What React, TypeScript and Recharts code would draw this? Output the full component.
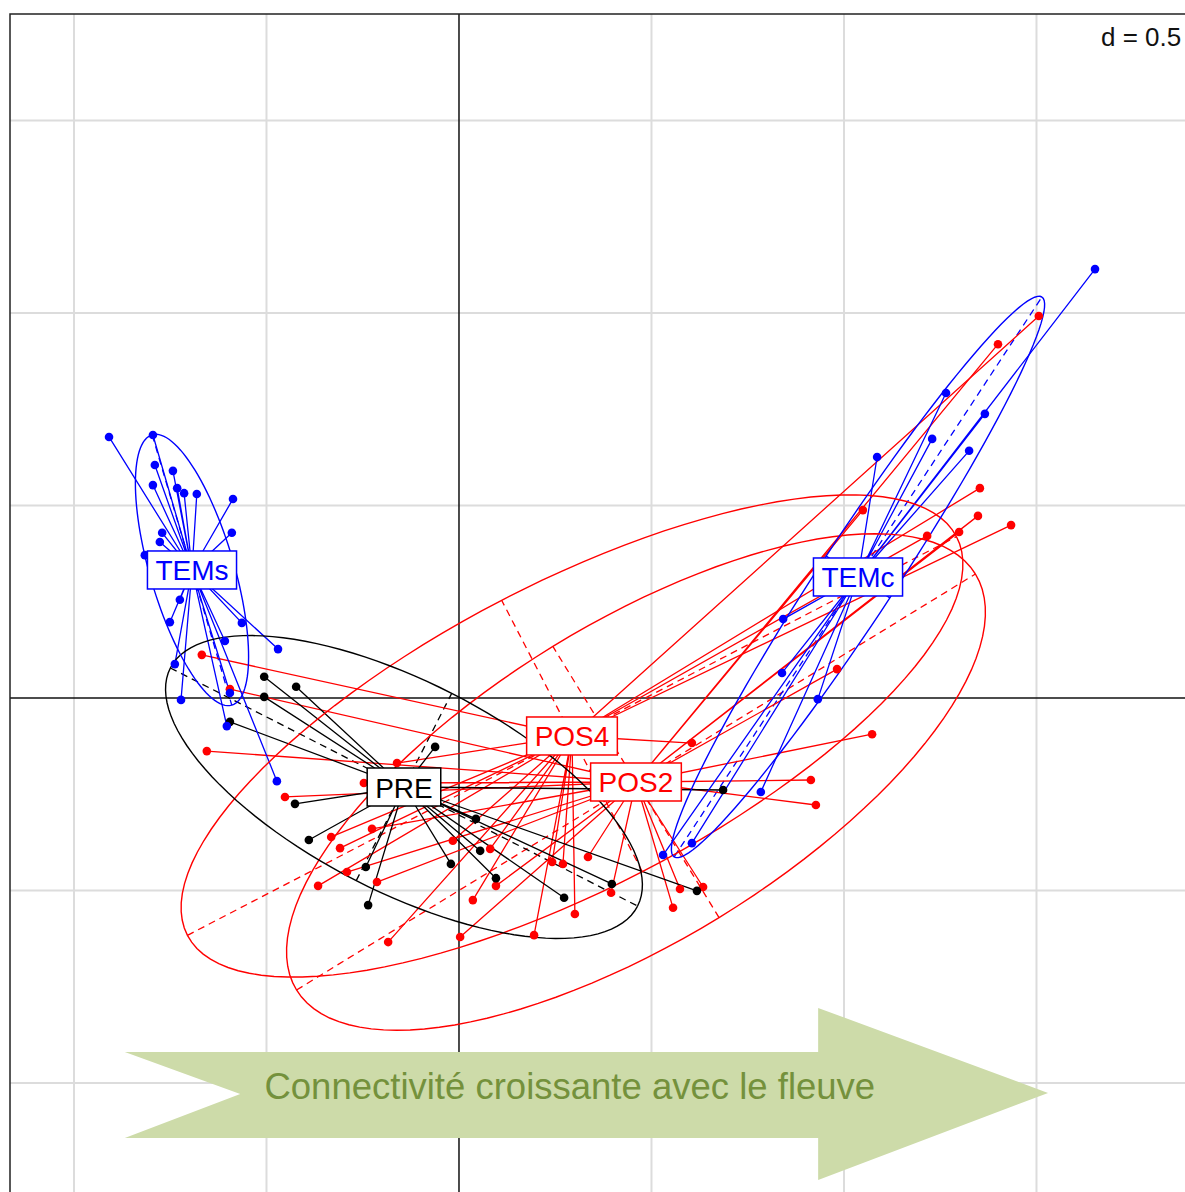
import React from 'react';
import { ComposedChart, Scatter, XAxis, YAxis, ReferenceLine, ReferenceArea } from 'recharts';

type P = [number, number];

// ---- data (in ordination units; d = 0.5 grid) ----
const groupNames = ['POS2', 'POS4', 'PRE', 'TEMs', 'TEMc'];
const groupColors = ['#ff0000', '#ff0000', '#000000', '#0000ff', '#0000ff'];
const centroids: P[] = [
  [0.4597, -0.2182],
  [0.2935, -0.0987],
  [-0.1429, -0.2312],
  [-0.6935, 0.3325],
  [1.0364, 0.3143],
];

const pos2Points: P[] = [
  [-0.595, 0.023], [-0.655, -0.138], [-0.247, -0.221], [-0.452, -0.257], [-0.226, -0.34],
  [-0.291, -0.452], [-0.213, -0.478], [0.003, -0.621], [0.335, -0.413], [0.096, -0.488],
  [0.395, -0.506], [0.574, -0.496], [0.556, -0.545], [0.634, -0.491], [0.982, 0.075],
  [1.073, -0.094], [0.914, -0.213], [0.927, -0.278], [1.4, 0.919], [1.348, 0.473],
  [1.299, 0.431], [1.049, 0.488],
];
const pos4Points: P[] = [
  [-0.668, 0.112], [-0.161, -0.169], [-0.332, -0.361], [-0.309, -0.39], [-0.366, -0.488],
  [-0.184, -0.634], [-0.016, -0.371], [0.036, -0.525], [0.081, -0.392], [0.242, -0.426],
  [0.27, -0.431], [0.301, -0.561], [0.195, -0.616], [0.605, -0.117], [1.506, 0.992],
  [1.353, 0.545], [1.434, 0.449], [1.216, 0.421],
];
const prePoints: P[] = [
  [-0.506, 0.055], [-0.423, 0.029], [-0.506, 0.003], [-0.595, -0.062], [-0.062, -0.127],
  [-0.426, -0.275], [-0.39, -0.369], [-0.242, -0.439], [-0.021, -0.431], [-0.236, -0.538],
  [0.044, -0.314], [0.055, -0.397], [0.096, -0.468], [0.273, -0.519], [0.397, -0.483],
  [0.618, -0.501], [0.686, -0.239],
];
const temsPoints: P[] = [
  [-0.909, 0.678], [-0.795, 0.683], [-0.79, 0.605], [-0.743, 0.59], [-0.795, 0.553],
  [-0.732, 0.545], [-0.714, 0.532], [-0.681, 0.53], [-0.587, 0.517], [-0.59, 0.429],
  [-0.771, 0.429], [-0.777, 0.405], [-0.816, 0.371], [-0.725, 0.255], [-0.751, 0.197],
  [-0.564, 0.195], [-0.608, 0.148], [-0.47, 0.127], [-0.738, 0.088], [-0.722, -0.005],
  [-0.595, 0.013], [-0.603, -0.073], [-0.473, -0.216],
];
const temcPoints: P[] = [
  [1.652, 1.114], [1.265, 0.792], [1.366, 0.738], [1.229, 0.673], [1.325, 0.642],
  [1.086, 0.626], [0.842, 0.205], [0.839, 0.065], [0.932, -0.003], [0.784, -0.244],
  [0.605, -0.377], [0.53, -0.408],
];
const groupPoints: P[][] = [pos2Points, pos4Points, prePoints, temsPoints, temcPoints];

// ellipse: semi-major, semi-minor, angle (deg) of major axis
const ellipseSemiMajor = [1.034, 1.125, 0.681, 0.366, 0.87];
const ellipseSemiMinor = [0.413, 0.397, 0.273, 0.109, 0.099];
const ellipseAngle = [31.5, 27.4, -27, -73.6, 56.7];

const gridX = [-1, -0.5, 0.5, 1, 1.5];
const gridY = [-1, -0.5, 0.5, 1, 1.5];
const scaleLabel = 'd = 0.5';
const arrowText = 'Connectivité croissante avec le fleuve';
// arrow extent in ordination units
const arrowX: P = [-0.868, 1.53];
const arrowY: P = [-1.252, -0.805];

const DOMAIN_X: P = [-1.1662, 1.9247];
const DOMAIN_Y: P = [-1.3299, 1.7766];

const FONT = '"Liberation Sans", Arial, Helvetica, sans-serif';

function measure(text: string, size: number): number {
  try {
    const c = document.createElement('canvas').getContext('2d');
    if (c) {
      c.font = `${size}px ${FONT}`;
      return c.measureText(text).width;
    }
  } catch (e) {}
  return text.length * size * 0.6;
}

function ellipsePoints(i: number) {
  const [cx, cy] = centroids[i];
  const a = ellipseSemiMajor[i];
  const b = ellipseSemiMinor[i];
  const th = (ellipseAngle[i] * Math.PI) / 180;
  const pts: { x: number; y: number }[] = [];
  for (let k = 0; k <= 120; k++) {
    const t = (k / 120) * Math.PI * 2;
    pts.push({
      x: cx + a * Math.cos(t) * Math.cos(th) - b * Math.sin(t) * Math.sin(th),
      y: cy + a * Math.cos(t) * Math.sin(th) + b * Math.sin(t) * Math.cos(th),
    });
  }
  return pts;
}

function axisSegments(i: number) {
  const [cx, cy] = centroids[i];
  const a = ellipseSemiMajor[i];
  const b = ellipseSemiMinor[i];
  const th = (ellipseAngle[i] * Math.PI) / 180;
  const c = Math.cos(th);
  const s = Math.sin(th);
  return [
    [{ x: cx - a * c, y: cy - a * s }, { x: cx + a * c, y: cy + a * s }],
    [{ x: cx + b * s, y: cy - b * c }, { x: cx - b * s, y: cy + b * c }],
  ];
}

function starData(i: number) {
  const [cx, cy] = centroids[i];
  const out: { x: number; y: number }[] = [{ x: cx, y: cy }];
  groupPoints[i].forEach(([x, y]) => {
    out.push({ x, y });
    out.push({ x: cx, y: cy });
  });
  return out;
}

const Empty = () => <g />;

const vLine = (color: string, w: number) => (p: any) => (
  <line x1={p.x + p.width / 2} x2={p.x + p.width / 2} y1={p.y} y2={p.y + p.height} stroke={color} strokeWidth={w} />
);
const hLine = (color: string, w: number) => (p: any) => (
  <line x1={p.x} x2={p.x + p.width} y1={p.y + p.height / 2} y2={p.y + p.height / 2} stroke={color} strokeWidth={w} />
);

const ArrowShape = (props: any) => {
  const { x, y, width: w, height: h } = props;
  const bodyTop = y + 0.256 * h;
  const bodyBot = y + 0.756 * h;
  const pts = [
    [x, bodyTop],
    [x + 0.751 * w, bodyTop],
    [x + 0.751 * w, y],
    [x + w, y + 0.494 * h],
    [x + 0.751 * w, y + h],
    [x + 0.751 * w, bodyBot],
    [x, bodyBot],
    [x + 0.125 * w, y + 0.5 * h],
  ]
    .map((p) => p.join(','))
    .join(' ');
  return (
    <g>
      <polygon points={pts} fill="#cddba9" stroke="none" />
      <text
        x={x + 0.482 * w}
        y={y + 0.455 * h}
        textAnchor="middle"
        dominantBaseline="central"
        fontSize={36.5}
        fontFamily={FONT}
        fill="#74913c"
      >
        {arrowText}
      </text>
    </g>
  );
};

const makeLabelShape = (name: string, color: string) => (props: any) => {
  const { cx, cy } = props;
  const tw = measure(name, 28);
  const w = tw + 16;
  const h = 38;
  return (
    <g>
      <rect x={cx - w / 2} y={cy - h / 2} width={w} height={h} fill="#ffffff" stroke={color} strokeWidth={1.5} />
      <text x={cx} y={cy + 1} textAnchor="middle" dominantBaseline="central" fontSize={28} fontFamily={FONT} fill={color}>
        {name}
      </text>
    </g>
  );
};

const EPS = 0.0005;

export default function App() {
  const idx = [0, 1, 2, 3, 4];
  return (
    <div style={{ position: 'absolute', left: 0, top: 0, width: 1185, height: 1192, overflow: 'hidden', background: '#fff' }}>
      <ComposedChart width={1200} height={1210} margin={{ top: 14, left: 10, right: 0, bottom: 0 }}>
        <XAxis type="number" dataKey="x" domain={DOMAIN_X} allowDataOverflow hide />
        <YAxis type="number" dataKey="y" domain={DOMAIN_Y} allowDataOverflow hide />
        {gridX.map((v) => (
          <ReferenceArea
            key={'gx' + v}
            x1={v - EPS}
            x2={v + EPS}
            y1={DOMAIN_Y[0]}
            y2={DOMAIN_Y[1]}
            ifOverflow="visible"
            shape={vLine('#dcdcdc', 2)}
          />
        ))}
        {gridY.map((v) => (
          <ReferenceArea
            key={'gy' + v}
            x1={DOMAIN_X[0]}
            x2={DOMAIN_X[1]}
            y1={v - EPS}
            y2={v + EPS}
            ifOverflow="visible"
            shape={hLine('#dcdcdc', 2)}
          />
        ))}
        <ReferenceArea
          x1={-EPS}
          x2={EPS}
          y1={DOMAIN_Y[0]}
          y2={DOMAIN_Y[1]}
          ifOverflow="visible"
          shape={vLine('#111', 1.5)}
        />
        <ReferenceArea
          x1={DOMAIN_X[0]}
          x2={DOMAIN_X[1]}
          y1={-EPS}
          y2={EPS}
          ifOverflow="visible"
          shape={hLine('#111', 1.5)}
        />
        <ReferenceArea
          x1={arrowX[0]}
          x2={arrowX[1]}
          y1={arrowY[0]}
          y2={arrowY[1]}
          ifOverflow="visible"
          shape={ArrowShape}
        />
        {idx.map((i) => (
          <Scatter
            key={'star' + i}
            data={starData(i)}
            line={{ stroke: groupColors[i], strokeWidth: 1.3 }}
            lineType="joint"
            shape={Empty}
            isAnimationActive={false}
          />
        ))}
        {idx.map((i) => (
          <Scatter
            key={'ell' + i}
            data={ellipsePoints(i)}
            line={{ stroke: groupColors[i], strokeWidth: 1.4, fill: 'none' }}
            lineType="joint"
            shape={Empty}
            isAnimationActive={false}
          />
        ))}
        {idx.map((i) =>
          axisSegments(i).map((seg, j) => (
            <ReferenceLine
              key={'ax' + i + '-' + j}
              segment={seg}
              stroke={groupColors[i]}
              strokeWidth={1.3}
              strokeDasharray="7 5"
              ifOverflow="visible"
            />
          ))
        )}
        {idx.map((i) => (
          <Scatter
            key={'pts' + i}
            data={groupPoints[i].map(([x, y]) => ({ x, y }))}
            fill={groupColors[i]}
            shape={(p: any) => <circle cx={p.cx} cy={p.cy} r={4.3} fill={groupColors[i]} />}
            isAnimationActive={false}
          />
        ))}
        {idx.map((i) => (
          <Scatter
            key={'lab' + i}
            data={[{ x: centroids[i][0], y: centroids[i][1] }]}
            shape={makeLabelShape(groupNames[i], groupColors[i])}
            isAnimationActive={false}
          />
        ))}
        <ReferenceArea
          x1={DOMAIN_X[0]}
          x2={DOMAIN_X[1]}
          y1={DOMAIN_Y[0]}
          y2={DOMAIN_Y[1]}
          fill="none"
          fillOpacity={0}
          stroke="#222"
          strokeWidth={1.5}
          ifOverflow="visible"
        />
      </ComposedChart>
      <div
        style={{
          position: 'absolute',
          left: 1101,
          top: 21,
          fontSize: 26,
          fontFamily: FONT,
          color: '#111',
          lineHeight: '32px',
          whiteSpace: 'nowrap',
        }}
      >
        {scaleLabel}
      </div>
    </div>
  );
}
